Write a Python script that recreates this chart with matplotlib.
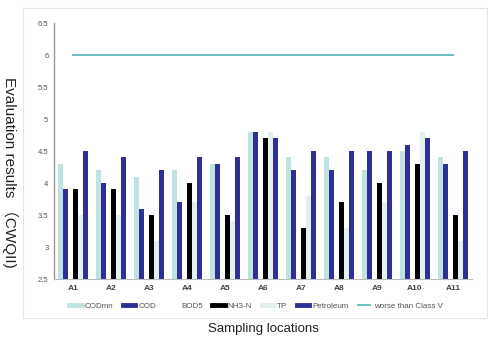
import matplotlib
matplotlib.use("Agg")
import matplotlib.pyplot as plt
import numpy as np
from matplotlib.lines import Line2D
from matplotlib.patches import Rectangle

categories = ["A1", "A2", "A3", "A4", "A5", "A6", "A7", "A8", "A9", "A10", "A11"]
codmn     = [4.3, 4.2, 4.1, 4.2, 4.3, 4.8, 4.4, 4.4, 4.2, 4.5, 4.4]
cod       = [3.9, 4.0, 3.6, 3.7, 4.3, 4.8, 4.2, 4.2, 4.5, 4.6, 4.3]
bod5      = [3.9, 3.9, 3.5, 4.0, 3.5, 4.7, 3.3, 3.7, 4.0, 4.3, 3.5]
nh3n      = [3.9, 3.9, 3.5, 4.0, 3.5, 4.7, 3.3, 3.7, 4.0, 4.3, 3.5]
tp        = [3.5, 3.5, 3.1, 3.7, 3.4, 4.8, 3.8, 3.3, 3.7, 4.8, 3.1]
petroleum = [4.5, 4.4, 4.2, 4.4, 4.4, 4.7, 4.5, 4.5, 4.5, 4.7, 4.5]
class_v   = [6.0] * 11
yticks = [2.5, 3, 3.5, 4, 4.5, 5, 5.5, 6, 6.5]

series = [
    ("CODmn", codmn, "#bfe3e3"),
    ("COD", cod, "#2f2f95"),
    ("BOD5", bod5, "#ffffff"),
    ("NH3-N", nh3n, "#000000"),
    ("TP", tp, "#e3f0f0"),
    ("Petroleum", petroleum, "#2f2f95"),
]
line_color = "#5fb8bc"

plt.rcParams['font.family'] = ['Liberation Sans', 'DejaVu Sans', 'Noto Sans CJK SC']

fig = plt.figure(figsize=(4.89, 3.37), dpi=100)
fig.patches.append(Rectangle((23/489, 1-318/337), (487-23)/489, (318-8)/337,
                             transform=fig.transFigure, fill=False,
                             edgecolor="#e6e6e6", linewidth=0.8))
ax = fig.add_axes([54/489, 1-279/337, (472-54)/489, (279-23)/337])

x = np.arange(len(categories))
w = 0.129
n = len(series)
for i, (name, vals, col) in enumerate(series):
    off = (i - 2.5) * w
    ax.bar(x + off, np.array(vals) - 2.5, width=w, bottom=2.5, color=col, label=name, zorder=2)

ax.plot(x, class_v, color=line_color, linewidth=1.3, zorder=3)

ax.set_ylim(2.5, 6.5)
ax.set_xlim(-0.5, len(categories) - 0.5)
ax.set_yticks(yticks)
ax.set_yticklabels([f"{v:g}" for v in yticks], fontsize=5.5, color="#555555")
ax.set_xticks(x)
ax.set_xticklabels(categories, fontsize=6, color="#444444", fontweight="bold")
ax.tick_params(axis="both", length=0, pad=4)
for s in ["top", "right"]:
    ax.spines[s].set_visible(False)
ax.spines["left"].set_color("#999999")
ax.spines["bottom"].set_color("#bbbbbb")
ax.spines["left"].set_linewidth(1.0)

handles = []
for name, vals, col in series:
    handles.append(Line2D([0], [0], color=col, linewidth=3.5))
handles.append(Line2D([0], [0], color=line_color, linewidth=1.3))
labels = [s[0] for s in series] + ["worse than Class V"]
fig.legend(handles, labels, loc="center", bbox_to_anchor=(256/489, 1-306/337), ncol=7,
           frameon=False, fontsize=5.8, handlelength=1.5, columnspacing=1.2,
           handletextpad=0.4, labelcolor="#555555")

fig.text(263/489, 1-329/337, "Sampling locations", ha="center", va="center", fontsize=9.5, color="#222222")
fig.text(10/489, 1-172/337, "Evaluation results （CWQII)", ha="center", va="center",
         rotation=270, fontsize=11, color="#222222")

fig.savefig("out.png", dpi=100)
